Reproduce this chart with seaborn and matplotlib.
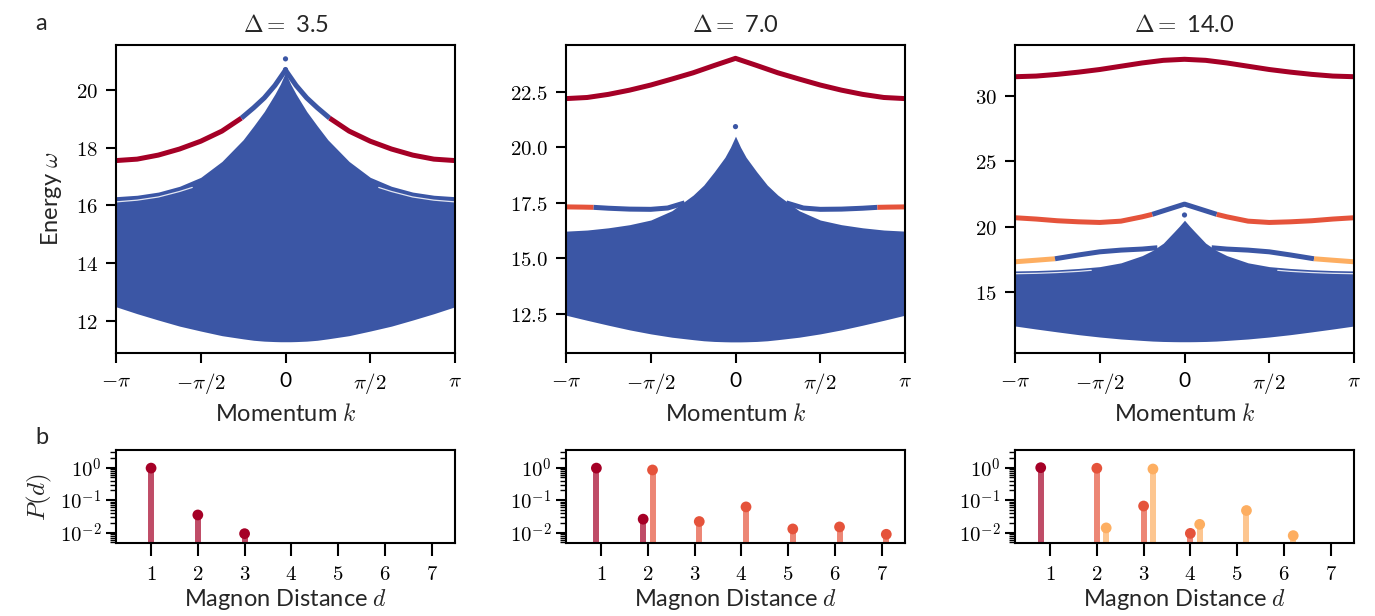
import numpy as np
import pandas as pd
import matplotlib
matplotlib.use("Agg")
import matplotlib.pyplot as plt
import seaborn as sns
from matplotlib.ticker import FixedLocator, FuncFormatter, LogLocator, NullFormatter

sns.set_theme(style="ticks")
plt.rcParams['font.family'] = ['Lato', 'DejaVu Sans']
plt.rcParams['mathtext.fontset'] = 'cm'
plt.rcParams['axes.edgecolor'] = 'black'
plt.rcParams['axes.linewidth'] = 1.5

# ---------------- data ----------------
deltas = ["3.5", "7.0", "14.0"]

# momentum sample points (units of pi) for the two-magnon continuum
cont_k = [-1, -0.875, -0.75, -0.625, -0.5, -0.375, -0.25, -0.1875, -0.125, -0.0625, -0.03, 0,
          0.03, 0.0625, 0.125, 0.1875, 0.25, 0.375, 0.5, 0.625, 0.75, 0.875, 1]
cont_low_35 = [12.49, 12.25, 12.03, 11.82, 11.65, 11.49, 11.38, 11.33, 11.30, 11.285, 11.28, 11.28,
               11.28, 11.285, 11.30, 11.33, 11.38, 11.49, 11.65, 11.82, 12.03, 12.25, 12.49]
cont_up_35 = [16.30, 16.35, 16.46, 16.66, 16.97, 17.52, 18.27, 18.75, 19.25, 19.85, 20.20, 20.60,
              20.20, 19.85, 19.25, 18.75, 18.27, 17.52, 16.97, 16.66, 16.46, 16.35, 16.30]
cont_low_70 = [12.45, 12.22, 12.00, 11.79, 11.61, 11.46, 11.35, 11.30, 11.27, 11.255, 11.25, 11.25,
               11.25, 11.255, 11.27, 11.30, 11.35, 11.46, 11.61, 11.79, 12.00, 12.22, 12.45]
cont_up_70 = [16.23, 16.28, 16.38, 16.52, 16.73, 17.15, 17.85, 18.30, 18.90, 19.55, 20.00, 20.50,
              20.00, 19.55, 18.90, 18.30, 17.85, 17.15, 16.73, 16.52, 16.38, 16.28, 16.23]
cont_low_140 = [12.43, 12.20, 11.98, 11.77, 11.59, 11.44, 11.33, 11.28, 11.25, 11.235, 11.23, 11.23,
                11.23, 11.235, 11.25, 11.28, 11.33, 11.44, 11.59, 11.77, 11.98, 12.20, 12.43]
cont_up_140 = [16.63, 16.66, 16.72, 16.82, 16.96, 17.25, 17.80, 18.20, 18.75, 19.60, 20.05, 20.50,
               20.05, 19.60, 18.75, 18.20, 17.80, 17.25, 16.96, 16.82, 16.72, 16.66, 16.63]

# thin gaps visible inside the continuum near the zone edge
gap_k = [-1, -0.875, -0.75, -0.625, -0.55, np.nan, 0.55, 0.625, 0.75, 0.875, 1]
gap_35 = [16.12, 16.18, 16.29, 16.48, 16.62, np.nan, 16.62, 16.48, 16.29, 16.18, 16.12]
gap_140 = [16.42, 16.45, 16.51, 16.60, 16.68, np.nan, 16.68, 16.60, 16.51, 16.45, 16.42]

# isolated states at k = 0
dots_35 = [21.07, 20.70]
dots_70 = [20.93]
dots_140 = [20.90]

# bound-state branches: k (units of pi), energy, tag (1 = bound, 0 = inside/near continuum)
b35_1_k = [-1, -0.875, -0.75, -0.625, -0.5, -0.375, -0.26, -0.1875, -0.125, -0.0625, 0,
           0.0625, 0.125, 0.1875, 0.26, 0.375, 0.5, 0.625, 0.75, 0.875, 1]
b35_1_E = [17.55, 17.60, 17.74, 17.95, 18.22, 18.57, 19.02, 19.38, 19.72, 20.15, 20.68,
           20.15, 19.72, 19.38, 19.02, 18.57, 18.22, 17.95, 17.74, 17.60, 17.55]
b35_1_t = [1, 1, 1, 1, 1, 1, 1, 0, 0, 0, 0, 0, 0, 0, 1, 1, 1, 1, 1, 1, 1]

b70_1_k = [-1, -0.875, -0.75, -0.625, -0.5, -0.375, -0.25, -0.125, 0,
           0.125, 0.25, 0.375, 0.5, 0.625, 0.75, 0.875, 1]
b70_1_E = [22.19, 22.24, 22.38, 22.57, 22.80, 23.07, 23.35, 23.68, 24.00,
           23.68, 23.35, 23.07, 22.80, 22.57, 22.38, 22.24, 22.19]
b70_1_t = [1] * 17
b70_2_k = [-1, -0.9, -0.837, -0.75, -0.625, -0.5, -0.4, -0.3, 0,
           0.3, 0.4, 0.5, 0.625, 0.75, 0.837, 0.9, 1]
b70_2_E = [17.32, 17.31, 17.30, 17.26, 17.22, 17.21, 17.27, 17.50, np.nan,
           17.50, 17.27, 17.21, 17.22, 17.26, 17.30, 17.31, 17.32]
b70_2_t = [1, 1, 1, 0, 0, 0, 0, 0, 0, 0, 0, 0, 0, 0, 1, 1, 1]

b140_1_k = [-1, -0.875, -0.75, -0.625, -0.5, -0.375, -0.25, -0.125, 0,
            0.125, 0.25, 0.375, 0.5, 0.625, 0.75, 0.875, 1]
b140_1_E = [31.45, 31.50, 31.63, 31.80, 32.00, 32.25, 32.50, 32.70, 32.78,
            32.70, 32.50, 32.25, 32.00, 31.80, 31.63, 31.50, 31.45]
b140_1_t = [1] * 17
b140_2_k = [-1, -0.875, -0.75, -0.625, -0.5, -0.375, -0.25, -0.19, -0.1, 0,
            0.1, 0.19, 0.25, 0.375, 0.5, 0.625, 0.75, 0.875, 1]
b140_2_E = [20.69, 20.59, 20.46, 20.38, 20.33, 20.43, 20.76, 20.95, 21.32, 21.73,
            21.32, 20.95, 20.76, 20.43, 20.33, 20.38, 20.46, 20.59, 20.69]
b140_2_t = [1, 1, 1, 1, 1, 1, 1, 1, 0, 0, 0, 1, 1, 1, 1, 1, 1, 1, 1]
b140_3_k = [-1, -0.875, -0.764, -0.625, -0.5, -0.375, -0.25, -0.16, 0,
            0.16, 0.25, 0.375, 0.5, 0.625, 0.764, 0.875, 1]
b140_3_E = [17.33, 17.45, 17.56, 17.85, 18.09, 18.22, 18.30, 18.40, np.nan,
            18.40, 18.30, 18.22, 18.09, 17.85, 17.56, 17.45, 17.33]
b140_3_t = [1, 1, 1, 0, 0, 0, 0, 0, 0, 0, 0, 0, 0, 0, 1, 1, 1]

# magnon-distance distributions P(d) per bound state
dist = [1, 2, 3, 4, 5, 6, 7]
P35_1 = [0.97, 0.035, 0.0093, np.nan, np.nan, np.nan, np.nan]
P70_1 = [0.97, 0.026, np.nan, np.nan, np.nan, np.nan, np.nan]
P70_2 = [np.nan, 0.85, 0.022, 0.062, 0.013, 0.015, 0.0089]
P140_1 = [1.0, np.nan, np.nan, np.nan, np.nan, np.nan, np.nan]
P140_2 = [np.nan, 0.96, 0.066, 0.0095, np.nan, np.nan, np.nan]
P140_3 = [np.nan, 0.014, 0.91, 0.018, 0.048, 0.0081, np.nan]

# ---------------- style ----------------
BLUE = "#3b56a5"
BAND_COLORS = ["#a50026", "#e5533b", "#fdae61"]

panels = [
    dict(low=cont_low_35, up=cont_up_35, gap=gap_35, dots=dots_35,
         bands=[(b35_1_k, b35_1_E, b35_1_t)], P=[P35_1], ylim=(10.89, 21.55),
         yticks=[12, 14, 16, 18, 20], yfmt="%d"),
    dict(low=cont_low_70, up=cont_up_70, gap=None, dots=dots_70,
         bands=[(b70_1_k, b70_1_E, b70_1_t), (b70_2_k, b70_2_E, b70_2_t)],
         P=[P70_1, P70_2], ylim=(10.75, 24.6),
         yticks=[12.5, 15.0, 17.5, 20.0, 22.5], yfmt="%.1f"),
    dict(low=cont_low_140, up=cont_up_140, gap=gap_140, dots=dots_140,
         bands=[(b140_1_k, b140_1_E, b140_1_t), (b140_2_k, b140_2_E, b140_2_t),
                (b140_3_k, b140_3_E, b140_3_t)],
         P=[P140_1, P140_2, P140_3], ylim=(10.37, 33.87),
         yticks=[15, 20, 25, 30], yfmt="%d"),
]

fig = plt.figure(figsize=(13.75, 6.16), dpi=100)
lefts = [116, 566, 1015]
W, H = 1375, 616
TICK_FS = 15
LAB_FS = 17

for i, p in enumerate(panels):
    ax = fig.add_axes([lefts[i] / W, 1 - 353 / H, 339 / W, 308 / H])
    kk = np.pi * np.asarray(cont_k)
    ax.fill_between(kk, p["low"], p["up"], color=BLUE, lw=0, zorder=1)
    if p["gap"] is not None:
        ax.plot(np.pi * np.asarray(gap_k), p["gap"], color="white", lw=0.9,
                alpha=0.85, zorder=1.5)
    sns.scatterplot(x=[0.0] * len(p["dots"]), y=p["dots"], ax=ax, color=BLUE,
                    s=14, edgecolor="none", zorder=3)
    for bi, (bk, bE, bt) in enumerate(p["bands"]):
        bk = np.pi * np.asarray(bk, float)
        bE = np.asarray(bE, float)
        segcol = [BAND_COLORS[bi] if (bt[j] == 1 and bt[j + 1] == 1) else BLUE
                  for j in range(len(bk) - 1)]
        start = 0
        for j in range(1, len(segcol) + 1):
            if j == len(segcol) or segcol[j] != segcol[start]:
                xs = bk[start:j + 1]
                ys = bE[start:j + 1]
                good = ~np.isnan(ys)
                runs = np.split(np.arange(len(ys)), np.where(~good)[0])
                for r in runs:
                    r = [q for q in r if good[q]]
                    if len(r) >= 2:
                        ax.plot(xs[r], ys[r], color=segcol[start], lw=3.6,
                                solid_capstyle="butt", solid_joinstyle="round", zorder=2)
                start = j
    ax.set_xlim(-np.pi, np.pi)
    ax.set_ylim(*p["ylim"])
    ax.set_xticks([-np.pi, -np.pi / 2, 0, np.pi / 2, np.pi])
    ax.set_xticklabels([r"$-\pi$", r"$-\pi/2$", "0", r"$\pi/2$", r"$\pi$"], fontsize=TICK_FS)
    ax.set_yticks(p["yticks"])
    ax.set_yticklabels(["$" + (p["yfmt"] % v) + "$" for v in p["yticks"]], fontsize=TICK_FS)
    ax.tick_params(direction="out", length=7, width=1.5, colors="black", pad=6)
    ax.set_xlabel(r"Momentum $k$", fontsize=LAB_FS, labelpad=5)
    ax.set_title(r"$\Delta=$ " + deltas[i], fontsize=LAB_FS, pad=9)
    if i == 0:
        ax.set_ylabel(r"Energy $\omega$", fontsize=LAB_FS, labelpad=8)
    for s in ax.spines.values():
        s.set_visible(True)
        s.set_linewidth(1.5)

    # ---- bottom panel ----
    bx = fig.add_axes([lefts[i] / W, 1 - 543 / H, 339 / W, 93 / H])
    nb = len(p["P"])
    for bi, Pv in enumerate(p["P"]):
        off = (bi - (nb - 1) / 2) * 0.2
        xs = np.asarray(dist, float) + off
        ys = np.asarray(Pv, float)
        m = ~np.isnan(ys)
        bx.vlines(xs[m], 1e-4, ys[m], color=BAND_COLORS[bi], alpha=0.7, lw=4.3, zorder=1)
        sns.scatterplot(x=xs[m], y=ys[m], ax=bx, color=BAND_COLORS[bi], s=60,
                        edgecolor="none", zorder=2)
    bx.set_yscale("log")
    bx.set_ylim(0.0048, 3.5)
    bx.set_xlim(0.25, 7.5)
    bx.set_xticks(dist)
    bx.set_xticklabels(["$%d$" % d for d in dist], fontsize=TICK_FS)
    bx.yaxis.set_major_locator(FixedLocator([1e-2, 1e-1, 1]))
    bx.yaxis.set_major_formatter(FuncFormatter(lambda v, pos: r"$10^{%d}$" % round(np.log10(v))))
    bx.yaxis.set_minor_locator(LogLocator(base=10, subs=np.arange(2, 10)))
    bx.yaxis.set_minor_formatter(NullFormatter())
    bx.tick_params(axis="y", which="major", direction="out", length=7, width=1.5,
                   labelsize=TICK_FS, colors="black")
    bx.tick_params(axis="y", which="minor", direction="out", length=4, width=1.0, colors="black")
    bx.tick_params(axis="x", direction="out", length=9, width=1.5, labelsize=TICK_FS,
                   colors="black", pad=6)
    bx.set_xlabel(r"Magnon Distance $d$", fontsize=LAB_FS, labelpad=2)
    if i == 0:
        bx.set_ylabel(r"$P(d)$", fontsize=LAB_FS + 1, labelpad=4)
    for s in bx.spines.values():
        s.set_visible(True)
        s.set_linewidth(1.5)

fig.text(35 / W, 1 - 24 / H, "a", fontsize=LAB_FS, va="center", ha="left")
fig.text(35 / W, 1 - 438 / H, "b", fontsize=LAB_FS, va="center", ha="left")

fig.savefig("out.png", dpi=100, facecolor="white")
